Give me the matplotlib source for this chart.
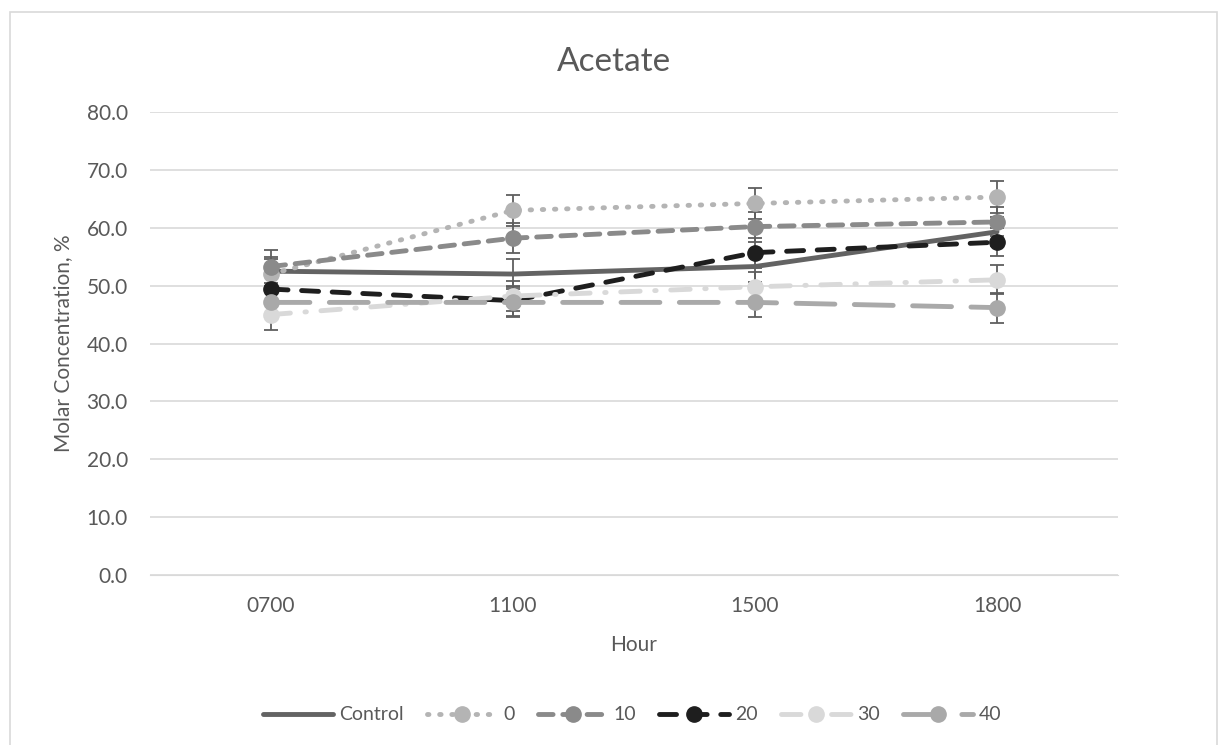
import numpy as np
import matplotlib.pyplot as plt

plt.rcParams['font.family'] = ['Lato', 'DejaVu Sans']

hours = ["0700", "1100", "1500", "1800"]
control = [52.5, 52.0, 53.3, 59.3]
c0 = [52.0, 63.0, 64.2, 65.3]
c10 = [53.3, 58.2, 60.2, 61.0]
c20 = [49.4, 47.4, 55.7, 57.5]
c30 = [45.0, 48.2, 49.8, 51.0]
c40 = [47.1, 47.1, 47.1, 46.2]
err_ctrl = [2.5, 2.6, 2.6, 2.5]
err0 = [2.6, 2.7, 2.7, 2.7]
err10 = [2.8, 2.6, 2.6, 2.5]
err20 = [2.5, 2.6, 2.6, 2.4]
err30 = [2.6, 2.6, 2.6, 2.5]
err40 = [2.6, 2.6, 2.6, 2.6]

fig = plt.figure(figsize=(12.28, 7.45), dpi=100)
ax = fig.add_axes([150/1228, 1 - 575/745, 968/1228, 463/745])
x = np.arange(len(hours))
ecol = '#5f5f5f'

series = [
    ("Control", control, err_ctrl, '#636363', '-', None),
    ("0", c0, err0, '#b4b4b4', (0, (0.3, 2.2)), 'o'),
    ("10", c10, err10, '#8a8a8a', (0, (3, 2)), 'o'),
    ("20", c20, err20, '#1e1e1e', (0, (3.5, 2.8)), 'o'),
    ("30", c30, err30, '#d9d9d9', (0, (4, 3, 0.3, 3)), 'o'),
    ("40", c40, err40, '#a9a9a9', (0, (8, 4)), 'o'),
]

handles = []
for name, vals, err, col, ls, mk in series:
    ax.errorbar(x, vals, yerr=err, fmt='none', ecolor=ecol, elinewidth=1.3,
                capsize=5, capthick=1.3, zorder=2)
    h, = ax.plot(x, vals, color=col, linestyle=ls, linewidth=3.5,
                 marker=mk, markersize=11, solid_capstyle='round',
                 dash_capstyle='round', zorder=3, label=name)
    handles.append(h)

ax.set_xlim(-0.5, 3.5)
ax.set_ylim(0, 80)
ax.set_yticks(np.arange(0, 81, 10))
ax.set_yticklabels([f"{v:.1f}" for v in np.arange(0, 81, 10)])
ax.set_xticks(x)
ax.set_xticklabels(hours)
ax.grid(axis='y', color='#d9d9d9', linewidth=1.2)
ax.set_axisbelow(True)
for s in ['top', 'right', 'left']:
    ax.spines[s].set_visible(False)
ax.spines['bottom'].set_color('#d9d9d9')
ax.tick_params(axis='both', length=0, colors='#595959', labelsize=15)
ax.tick_params(axis='x', pad=15)
ax.tick_params(axis='y', pad=16)

ax.set_xlabel("Hour", fontsize=15, color='#595959', labelpad=14)
ax.set_ylabel("Molar Concentration, %", fontsize=15, color='#595959', labelpad=10)
fig.text(0.5, 1 - 62/745, "Acetate", ha='center', va='center', fontsize=24, color='#595959')

fig.legend(handles=handles, loc='center', bbox_to_anchor=(0.515, 1 - 715/745), ncol=6,
           frameon=False, fontsize=14, handlelength=3.6, handletextpad=0.3,
           columnspacing=1.2, labelcolor='#595959')

border = plt.Rectangle((10/1228, -0.01), 1207/1228, 1 - 12/745 + 0.01, transform=fig.transFigure,
                       fill=False, edgecolor='#d9d9d9', linewidth=1.2)
fig.patches.append(border)

fig.savefig("out.png", dpi=100)
